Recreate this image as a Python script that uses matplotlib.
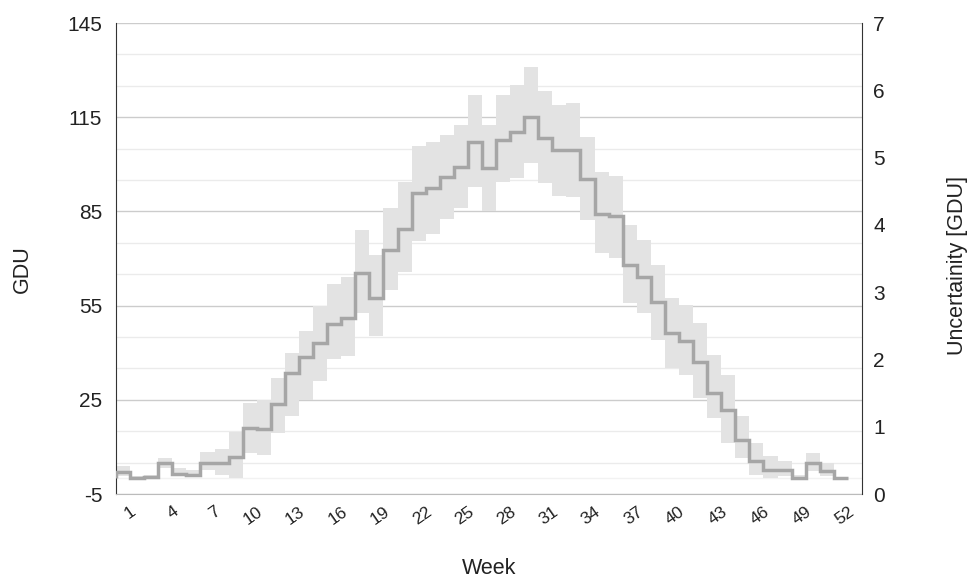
import numpy as np
import matplotlib
matplotlib.use("Agg")
import matplotlib.pyplot as plt

plt.rcParams['font.family'] = ['Liberation Sans', 'DejaVu Sans']
plt.rcParams['axes.unicode_minus'] = False

# Weekly growing degree units (GDU) with uncertainty band
weeks = list(range(1, 53))
gdu = [1.9, 0.1, 0.4, 4.8, 1.4, 1.1, 5.0, 4.8, 6.9, 16.0,
       15.8, 23.7, 33.5, 38.5, 43.0, 49.0, 51.0, 65.3, 57.4, 72.6,
       79.5, 90.8, 92.4, 96.1, 99.3, 107.2, 98.8, 107.8, 110.4, 115.2,
       108.3, 104.4, 104.5, 95.3, 84.3, 83.4, 68.0, 64.0, 56.0, 46.2,
       43.6, 37.2, 27.1, 21.8, 12.3, 5.4, 2.7, 2.7, 0.1, 4.8,
       2.2, 0.1]
gdu_upper = [4.0, 0.6, 0.9, 6.4, 3.3, 2.7, 8.5, 9.3, 14.9, 24.0,
             25.0, 32.0, 40.0, 47.0, 55.0, 62.0, 64.0, 79.0, 71.0, 86.0,
             94.5, 105.9, 107.2, 109.4, 112.6, 122.1, 112.6, 122.1, 125.3, 130.9,
             123.2, 118.9, 119.5, 108.8, 97.5, 96.4, 80.7, 75.9, 68.0, 57.4,
             55.2, 49.4, 39.3, 33.0, 19.7, 11.2, 7.0, 5.4, 1.0, 8.2,
             4.8, 0.4]
gdu_lower = [0.6, -0.5, -0.2, 3.3, 0.6, 0.4, 2.7, 1.1, 0.1, 8.0,
             7.5, 14.4, 20.0, 25.0, 31.0, 38.0, 38.8, 52.6, 45.2, 60.0,
             65.8, 75.5, 77.8, 82.6, 86.0, 92.9, 85.2, 94.5, 95.6, 100.4,
             94.0, 90.0, 89.7, 82.3, 71.7, 70.1, 55.8, 52.6, 44.1, 35.1,
             33.0, 25.5, 19.2, 11.2, 6.4, 1.1, 0.1, 0.6, -0.5, 2.2,
             0.6, -0.2]

left_ticks = [-5, 25, 55, 85, 115, 145]
right_ticks = [0, 1, 2, 3, 4, 5, 6, 7]
week_ticks = list(range(1, 53, 3))

fig = plt.figure(figsize=(9.71, 5.78), dpi=100)
ax = fig.add_axes([0.1195, 0.1453, 0.7682, 0.8149])

edges = np.arange(0, len(weeks) + 1)
ax.stairs(gdu_upper, edges, baseline=gdu_lower, fill=True,
          color='#e3e3e3', linewidth=0, zorder=2)
ax.stairs(gdu, edges, color='#a6a6a6', linewidth=2.5, zorder=3)

ax.set_xlim(0, 53)
ax.set_ylim(-5, 145)

# horizontal gridlines: major every 30, minor every 10
ax.set_yticks(left_ticks)
ax.set_yticks(np.arange(-5, 146, 10), minor=True)
ax.yaxis.grid(True, which='major', color='#cccccc', linewidth=1.0, zorder=0)
ax.yaxis.grid(True, which='minor', color='#ebebeb', linewidth=1.0, zorder=0)
ax.axhline(0, color='#f2f2f2', linewidth=1.0, zorder=1)
ax.set_axisbelow(True)
ax.tick_params(axis='y', which='both', length=0, labelsize=15, pad=10,
               labelcolor='#222222')

ax.set_xticks(week_ticks)
ax.set_xticklabels([str(w) for w in week_ticks], rotation=35,
                   ha='right', rotation_mode='anchor')
ax.tick_params(axis='x', length=0, labelsize=12.5, pad=7, labelcolor='#222222')

ax.spines['top'].set_visible(False)
ax.spines['left'].set_color('#333333')
ax.spines['right'].set_visible(False)
ax.spines['bottom'].set_color('#bbbbbb')

ax2 = ax.twinx()
ax2.set_ylim(0, 7)
ax2.set_yticks(right_ticks)
ax2.tick_params(axis='y', length=0, labelsize=15, pad=8, labelcolor='#222222')
ax2.spines['top'].set_visible(False)
ax2.spines['left'].set_visible(False)
ax2.spines['bottom'].set_visible(False)
ax2.spines['right'].set_color('#333333')

fig.text(0.5036, 0.0156, 'Week', ha='center', va='center', fontsize=15.5,
         color='#222222')
fig.text(0.023, 0.535, 'GDU', ha='center', va='center', rotation=90,
         fontsize=15.5, color='#222222')
fig.text(0.986, 0.54, 'Uncertainity [GDU]', ha='center', va='center',
         rotation=90, fontsize=15.5, color='#222222')

fig.savefig('out.png', dpi=100)
